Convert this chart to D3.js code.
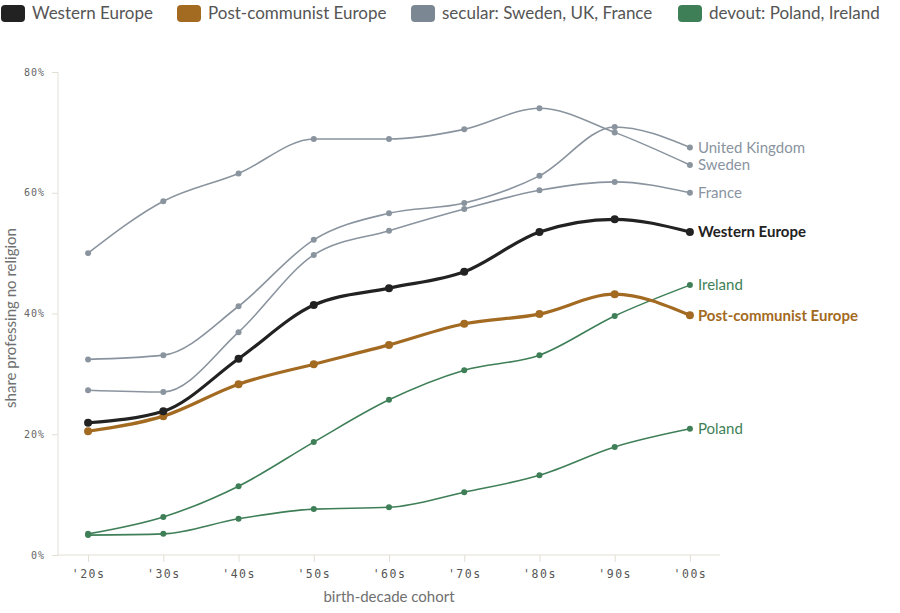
<!DOCTYPE html>
<html><head><meta charset="utf-8">
<script src="https://cdn.jsdelivr.net/npm/d3@7"></script>
<style>
body{margin:0;background:#fff;}
svg{display:block;font-family:Lato,"Open Sans",sans-serif;}
</style></head>
<body><svg id="c" width="900" height="613"></svg>
<script>
const cohorts = ["'20s","'30s","'40s","'50s","'60s","'70s","'80s","'90s","'00s"];
const yTicks = [0, 20, 40, 60, 80];
const westernEurope = [21.9, 23.8, 32.5, 41.4, 44.2, 46.9, 53.5, 55.6, 53.5];
const postCommunist = [20.5, 23.0, 28.3, 31.6, 34.8, 38.3, 39.9, 43.2, 39.7];
const sweden = [50.0, 58.6, 63.2, 68.9, 68.9, 70.5, 74.0, 70.0, 64.6];
const unitedKingdom = [32.4, 33.1, 41.2, 52.2, 56.6, 58.3, 62.8, 70.9, 67.5];
const france = [27.3, 27.0, 36.9, 49.7, 53.7, 57.3, 60.4, 61.8, 60.0];
const ireland = [3.5, 6.3, 11.4, 18.7, 25.7, 30.6, 33.1, 39.6, 44.7];
const poland = [3.3, 3.5, 6.0, 7.6, 7.9, 10.4, 13.2, 17.9, 20.9];
const legendLabels = ["Western Europe", "Post-communist Europe", "secular: Sweden, UK, France", "devout: Poland, Ireland"];

const C = {west:"#222222", post:"#a36a21", sec:"#8a949f", dev:"#3f7f58"};
const legendColors = [C.west, C.post, "#7b8894", C.dev];

const series = [
  {name:"Sweden", values:sweden, color:C.sec, w:1.6, r:3, bold:false},
  {name:"United Kingdom", values:unitedKingdom, color:C.sec, w:1.6, r:3, bold:false},
  {name:"France", values:france, color:C.sec, w:1.6, r:3, bold:false},
  {name:"Ireland", values:ireland, color:C.dev, w:1.6, r:3, bold:false},
  {name:"Poland", values:poland, color:C.dev, w:1.6, r:3, bold:false},
  {name:"Post-communist Europe", values:postCommunist, color:C.post, w:3.2, r:4, bold:true},
  {name:"Western Europe", values:westernEurope, color:C.west, w:3.2, r:4, bold:true}
];

const svg = d3.select("#c");
const x = d3.scalePoint().domain(cohorts).range([58, 720]).padding(0.4);
const y = d3.scaleLinear().domain([0, 80]).range([555, 72]);
const axisColor = "#e2dfd5";

// y axis
const ya = svg.append("g").attr("transform","translate(58,0)")
  .call(d3.axisLeft(y).tickValues(yTicks).tickFormat(d => d + "%").tickSize(6).tickPadding(7));
ya.select(".domain").attr("stroke", axisColor).attr("d", "M0," + y(0) + "V" + y(80));
ya.selectAll(".tick line").attr("stroke", axisColor);
ya.selectAll(".tick text").attr("fill","#666").style("font-family","'DejaVu Sans Mono',monospace")
  .style("font-size","10px").style("letter-spacing","1px");

// x axis
const xa = svg.append("g").attr("transform","translate(0,555)")
  .call(d3.axisBottom(x).tickSize(7).tickPadding(8));
xa.select(".domain").attr("stroke", axisColor).attr("d","M58,0H720");
xa.selectAll(".tick line").attr("stroke", axisColor);
xa.selectAll(".tick text").attr("fill","#555").style("font-family","'DejaVu Sans Mono',monospace")
  .style("font-size","11.5px").style("letter-spacing","1.5px");

// axis titles
svg.append("text").attr("x", 389).attr("y", 602).attr("text-anchor","middle")
  .attr("fill","#707070").style("font-size","15px").text("birth-decade cohort");
svg.append("text").attr("transform","translate(16,318) rotate(-90)").attr("text-anchor","middle")
  .attr("fill","#707070").style("font-size","15px").text("share professing no religion");

// lines
const line = d3.line().x((d,i) => x(cohorts[i])).y(d => y(d)).curve(d3.curveMonotoneX);
series.forEach(s => {
  const g = svg.append("g");
  g.append("path").datum(s.values).attr("d", line).attr("fill","none")
    .attr("stroke", s.color).attr("stroke-width", s.w).attr("stroke-linejoin","round");
  g.selectAll("circle").data(s.values).join("circle")
    .attr("cx",(d,i) => x(cohorts[i])).attr("cy", d => y(d)).attr("r", s.r).attr("fill", s.color);
  const last = s.values[s.values.length-1];
  g.append("text").attr("x", x(cohorts[cohorts.length-1]) + 8).attr("y", y(last)).attr("dy","0.35em")
    .attr("fill", s.color).style("font-size","15px").style("font-weight", s.bold ? "700" : "400")
    .text(s.name);
});

// legend
const legendX = [0, 176, 410, 677];
legendLabels.forEach((l,i) => {
  const g = svg.append("g").attr("transform","translate(" + legendX[i] + ",0)");
  g.append("rect").attr("x",1).attr("y",5).attr("width",24).attr("height",17).attr("rx",4).attr("fill",legendColors[i]);
  g.append("text").attr("x",32).attr("y",13.5).attr("dy","0.35em").attr("fill","#555")
    .style("font-size","17px").text(l);
});
</script></body></html>
